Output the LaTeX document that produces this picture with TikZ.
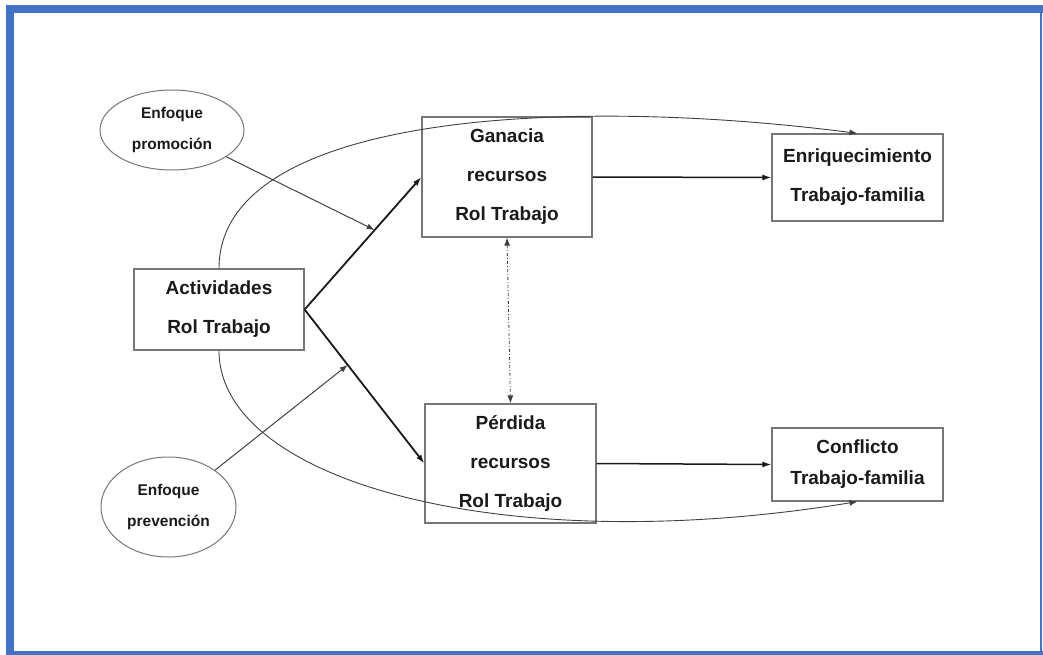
\documentclass[tikz,border=0pt]{standalone}
\usepackage{fontspec}
\setmainfont{Liberation Sans}
\usepackage{tikz}
\usetikzlibrary{shapes,arrows.meta,positioning,calc}
\usepackage{xcolor}
\definecolor{frameblue}{RGB}{68,114,196}
\definecolor{boxgrey}{RGB}{118,118,118}
\definecolor{linegrey}{RGB}{64,64,64}
\definecolor{textdark}{RGB}{26,26,26}

\begin{document}
\begin{tikzpicture}[x=1pt, y=-1pt,
    factor/.style={rectangle, draw=boxgrey, line width=1.2pt, inner sep=0pt, align=center,
                   minimum width=171pt, text=textdark, font=\fontsize{19}{39}\selectfont\bfseries},
    focus/.style={ellipse, draw=boxgrey, line width=1pt, inner sep=0pt, align=center,
                  text=textdark, font=\fontsize{15.5}{31}\selectfont\bfseries},
    mainlink/.style={draw=black!90, line width=1.8pt, -{Latex[length=9pt,width=6pt]}},
    link/.style={draw=linegrey, line width=1pt, -{Latex[length=8pt,width=6pt]}},
    curve/.style={draw=linegrey, line width=0.9pt, -{Latex[length=8pt,width=6pt]}},
    corr/.style={draw=linegrey, line width=0.8pt, dash pattern=on 3pt off 2pt on 1pt off 2pt,
                 {Latex[length=8pt,width=6pt]}-{Latex[length=8pt,width=6pt]}}
]
    \useasboundingbox (0,0) rectangle (1043,655);
    \fill[frameblue] (6,5) rectangle (1043,13);
    \fill[frameblue] (6,5) rectangle (14,655);
    \fill[frameblue] (1040,5) rectangle (1042,655);
    \fill[frameblue] (6,651) rectangle (1043,655);

    \node[factor, minimum width=170pt, minimum height=81pt] (act) at (219,309.5) {Actividades\\Rol Trabajo};
    \node[factor, minimum width=170pt, minimum height=120pt] (gan) at (507,177) {Ganacia\\recursos\\Rol Trabajo};
    \node[factor, minimum height=119pt] (per) at (510.5,463.5) {Pérdida\\recursos\\Rol Trabajo};
    \node[factor, minimum height=87pt] (enr) at (857.5,177.5) {Enriquecimiento\\Trabajo-familia};
    \node[factor, minimum height=73pt, font=\fontsize{19}{31}\selectfont\bfseries] (con) at (857.5,464.5) {Conflicto\\Trabajo-familia};
    \node[focus, minimum width=144pt, minimum height=80pt] (pro) at (172,130) {Enfoque\\promoción};
    \node[focus, minimum width=135pt, minimum height=100pt] (pre) at (168.5,507) {Enfoque\\prevención};

    \draw[mainlink] (act.east) -- coordinate[pos=0.6] (m1) (gan.west);
    \draw[mainlink] (act.east) -- coordinate[pos=0.36] (m2) (per.west);
    \draw[link] (pro) -- (m1);
    \draw[link] (pre) -- (m2);
    \draw[mainlink, line width=1.5pt] (gan.east) -- (enr.west);
    \draw[mainlink, line width=1.5pt] (per.east) -- (con.west);
    \draw[corr] (gan.south) -- (per.north);
    \draw[curve] (act.north) .. controls (219,115) and (560,95) .. (enr.north);
    \draw[curve] (act.south) .. controls (219,480) and (500,560) .. (con.south);
\end{tikzpicture}
\end{document}
